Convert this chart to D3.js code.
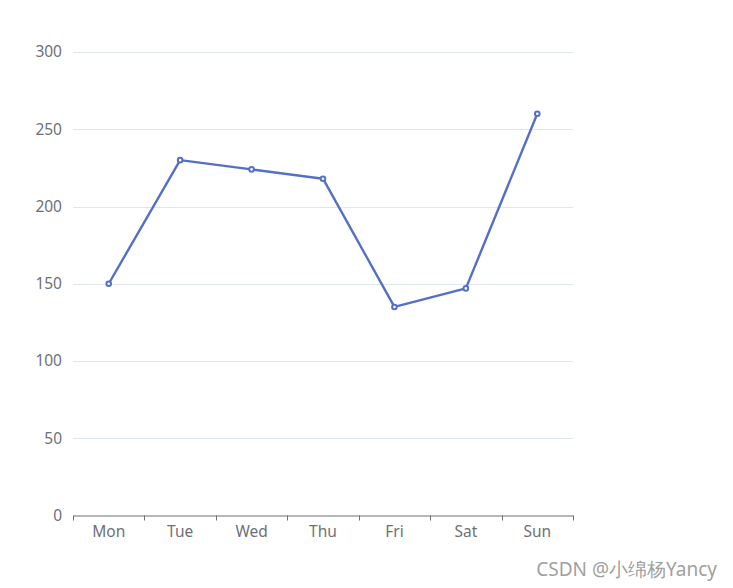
<!DOCTYPE html>
<html><head><meta charset="utf-8">
<script src="https://cdn.jsdelivr.net/npm/d3@7"></script>
<style>body{margin:0;background:#fff}svg{display:block}</style>
</head><body>
<script>
const categories = ["Mon","Tue","Wed","Thu","Fri","Sat","Sun"];
const values = [150, 230, 224, 218, 135, 147, 260];
const yTicks = [0, 50, 100, 150, 200, 250, 300];
const watermark = "CSDN @小绵杨Yancy";

(function () {
const W = 733, H = 588;
const mLeft = 73, mRight = 573, mTop = 52, mBottom = 515.5;
const svg = d3.select("body").append("svg").attr("width", W).attr("height", H);
const font = "'Microsoft YaHei', 'Noto Sans', sans-serif";

const x = d3.scaleBand().domain(categories).range([mLeft, mRight]);
const y = d3.scaleLinear().domain([0, 300]).range([mBottom, mTop]);

// grid
svg.append("g").selectAll("line").data(yTicks.filter(d => d > 0)).join("line")
  .attr("x1", mLeft).attr("x2", mRight)
  .attr("y1", d => Math.round(y(d)) + 0.5).attr("y2", d => Math.round(y(d)) + 0.5)
  .attr("stroke", "#E0E6F1").attr("stroke-width", 1);

// y labels
svg.append("g").selectAll("text").data(yTicks).join("text")
  .attr("x", mLeft - 11).attr("y", d => y(d)).attr("dy", "0.35em")
  .attr("text-anchor", "end").attr("font-family", font).attr("font-size", 15.5)
  .attr("fill", "#6E7079").text(d => d);

// x axis
const xAxis = d3.axisBottom(x).tickSizeOuter(0).tickSize(0).tickPadding(8);
const gx = svg.append("g").attr("transform", `translate(0,${mBottom})`).call(xAxis);
gx.select(".domain").attr("stroke", "#6E7079");
gx.selectAll("text").attr("font-family", font).attr("font-size", 15.5).attr("fill", "#6E7079").attr("dy", "0.85em");
// band boundary ticks
const bounds = categories.map(c => x(c)).concat([mRight]);
svg.append("g").selectAll("line").data(bounds).join("line")
  .attr("x1", d => Math.round(d) + 0.5).attr("x2", d => Math.round(d) + 0.5)
  .attr("y1", mBottom).attr("y2", mBottom + 5)
  .attr("stroke", "#6E7079");

// line
const cx = c => x(c) + x.bandwidth() / 2;
const line = d3.line().x((d, i) => cx(categories[i])).y(d => y(d));
svg.append("path").datum(values).attr("d", line)
  .attr("fill", "none").attr("stroke", "#5470C6").attr("stroke-width", 2.4).attr("stroke-linejoin", "bevel");

svg.append("g").selectAll("circle").data(values).join("circle")
  .attr("cx", (d, i) => cx(categories[i])).attr("cy", d => y(d)).attr("r", 2.3)
  .attr("fill", "#fff").attr("stroke", "#5470C6").attr("stroke-width", 2);

// watermark
svg.append("text").attr("x", 717).attr("y", 576).attr("text-anchor", "end")
  .attr("font-family", font).attr("font-size", 19).attr("fill", "#A0A0A0").text(watermark);
})();
</script>
</body></html>
